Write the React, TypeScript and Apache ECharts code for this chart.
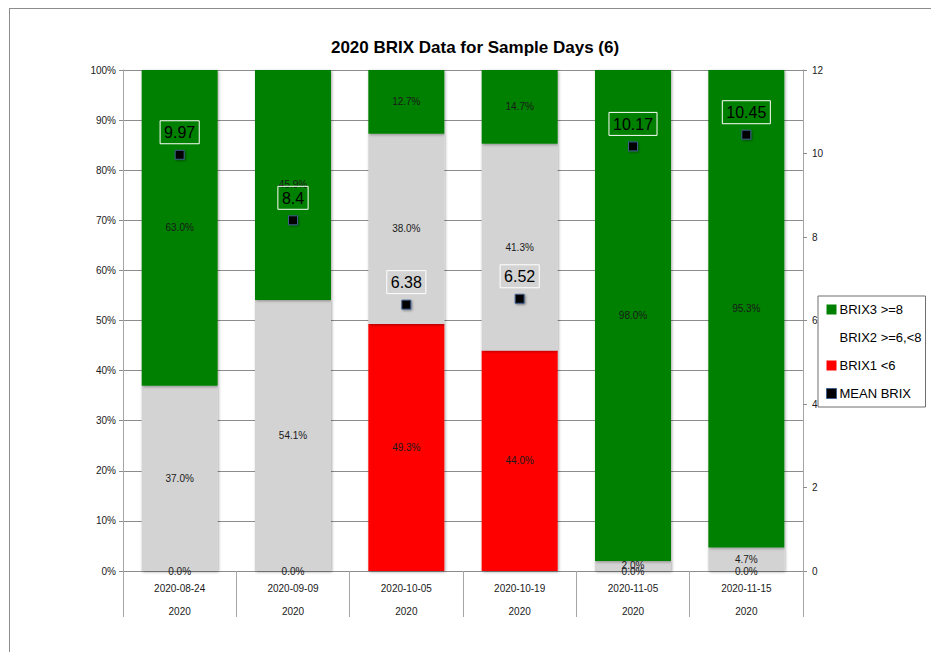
import React, { useEffect, useRef } from "react";
import * as echarts from "echarts";

const categories = ["2020-08-24", "2020-09-09", "2020-10-05", "2020-10-19", "2020-11-05", "2020-11-15"];
const yearLabels = ["2020", "2020", "2020", "2020", "2020", "2020"];
const brix1 = [0.0, 0.0, 49.3, 44.0, 0.0, 0.0];
const brix2 = [37.0, 54.1, 38.0, 41.3, 2.0, 4.7];
const brix3 = [63.0, 45.9, 12.7, 14.7, 98.0, 95.3];
const meanBrix = ["9.97", "8.4", "6.38", "6.52", "10.17", "10.45"];

const FONT = '"Liberation Sans Narrow", "Liberation Sans", Arial, sans-serif';

export default function App() {
  const ref = useRef<HTMLDivElement>(null);
  useEffect(() => {
    if (!ref.current) return;
    const chart = echarts.init(ref.current, undefined, { renderer: "svg" });
    const barShadow = {
      shadowBlur: 3,
      shadowColor: "rgba(0,0,0,0.35)",
      shadowOffsetX: 1,
      shadowOffsetY: 1,
    };
    const barLabel = {
      show: true,
      position: "inside" as const,
      fontSize: 10,
      color: "#1a1a1a",
      fontFamily: FONT,
      formatter: (p: any) => Number(p.value).toFixed(1) + "%",
    };
    chart.setOption({
      animation: false,
      backgroundColor: "#fff",
      textStyle: { fontFamily: FONT },
      title: {
        text: "2020 BRIX Data for Sample Days (6)",
        left: 470,
        textAlign: "center",
        top: 34,
        textStyle: { fontSize: 17, fontWeight: "bold", color: "#000", fontFamily: FONT },
      },
      graphic: [
        { type: "line", shape: { x1: 9, y1: 8.5, x2: 931, y2: 8.5 }, style: { stroke: "#8c8c8c", lineWidth: 1 } },
        { type: "line", shape: { x1: 9.5, y1: 8, x2: 9.5, y2: 652 }, style: { stroke: "#8c8c8c", lineWidth: 1 } },
      ],
      legend: {
        orient: "vertical",
        left: 818,
        top: 296,
        padding: [7, 4, 7, 8],
        itemWidth: 10,
        itemHeight: 10,
        itemGap: 15,
        borderColor: "#6e6e6e",
        borderWidth: 1,
        icon: "rect",
        textStyle: { fontSize: 13, color: "#000", fontFamily: FONT, padding: [0, 0, 0, -2] },
        data: [
          { name: "BRIX3 >=8", itemStyle: { shadowBlur: 0, shadowOffsetX: 0, shadowOffsetY: 0 } },
          { name: "BRIX2 >=6,<8", itemStyle: { color: "rgba(0,0,0,0)", shadowBlur: 0, shadowOffsetX: 0, shadowOffsetY: 0 } },
          { name: "BRIX1 <6", itemStyle: { shadowBlur: 0, shadowOffsetX: 0, shadowOffsetY: 0 } },
          { name: "MEAN BRIX", itemStyle: { color: "#000", borderColor: "#3f5f8f", borderWidth: 1 } },
        ],
      },
      grid: { left: 123, right: 130, top: 70, bottom: 81 },
      xAxis: {
        type: "category",
        data: categories,
        axisLine: { show: true, lineStyle: { color: "#8c8c8c", width: 1 } },
        axisTick: { show: true, interval: 0, length: 46, lineStyle: { color: "#a6a6a6" } },
        axisLabel: {
          interval: 0,
          margin: 6,
          fontSize: 10,
          color: "#1a1a1a",
          lineHeight: 23,
          fontFamily: FONT,
          formatter: (v: string, i: number) => v + "\n" + yearLabels[i],
        },
      },
      yAxis: [
        {
          type: "value",
          min: 0,
          max: 100,
          interval: 10,
          axisLine: { show: true, lineStyle: { color: "#a6a6a6" } },
          axisTick: { show: true, length: 4, lineStyle: { color: "#8c8c8c" } },
          axisLabel: { formatter: "{value}%", fontSize: 10, color: "#1a1a1a", margin: 7, fontFamily: FONT },
          splitLine: { show: true, lineStyle: { color: "#8c8c8c", width: 1 } },
        },
        {
          type: "value",
          min: 0,
          max: 12,
          interval: 2,
          position: "right",
          axisLine: { show: true, lineStyle: { color: "#a6a6a6" } },
          axisTick: { show: true, length: 4, lineStyle: { color: "#8c8c8c" } },
          axisLabel: { fontSize: 10, color: "#1a1a1a", margin: 9, fontFamily: FONT },
          splitLine: { show: false },
        },
      ],
      series: [
        {
          name: "BRIX1 <6",
          type: "bar",
          stack: "brix",
          barWidth: 76,
          data: brix1,
          itemStyle: { color: "#ff0000", ...barShadow },
          label: barLabel,
        },
        {
          name: "BRIX2 >=6,<8",
          type: "bar",
          stack: "brix",
          barWidth: 76,
          data: brix2,
          itemStyle: { color: "#d3d3d3", ...barShadow },
          label: barLabel,
        },
        {
          name: "BRIX3 >=8",
          type: "bar",
          stack: "brix",
          barWidth: 76,
          data: brix3,
          itemStyle: { color: "#008000", ...barShadow },
          label: barLabel,
        },
        {
          name: "MEAN BRIX",
          type: "line",
          yAxisIndex: 1,
          data: meanBrix.map(Number),
          symbol: "rect",
          symbolSize: 9,
          lineStyle: { width: 0, opacity: 0 },
          itemStyle: { color: "#000", borderColor: "#3f5f8f", borderWidth: 1, shadowBlur: 2, shadowColor: "rgba(0,0,0,0.4)", shadowOffsetX: 1, shadowOffsetY: 1 },
          label: {
            show: true,
            position: "top",
            distance: 6,
            fontSize: 16,
            color: "#000",
            fontFamily: FONT,
            borderColor: "#ffffff",
            borderWidth: 1,
            padding: [4, 4, 3, 4],
            formatter: (p: any) => meanBrix[p.dataIndex],
          },
          z: 5,
        },
      ],
    });
    return () => chart.dispose();
  }, []);
  return <div ref={ref} style={{ width: 933, height: 652, position: "absolute", left: 0, top: 0 }} />;
}
